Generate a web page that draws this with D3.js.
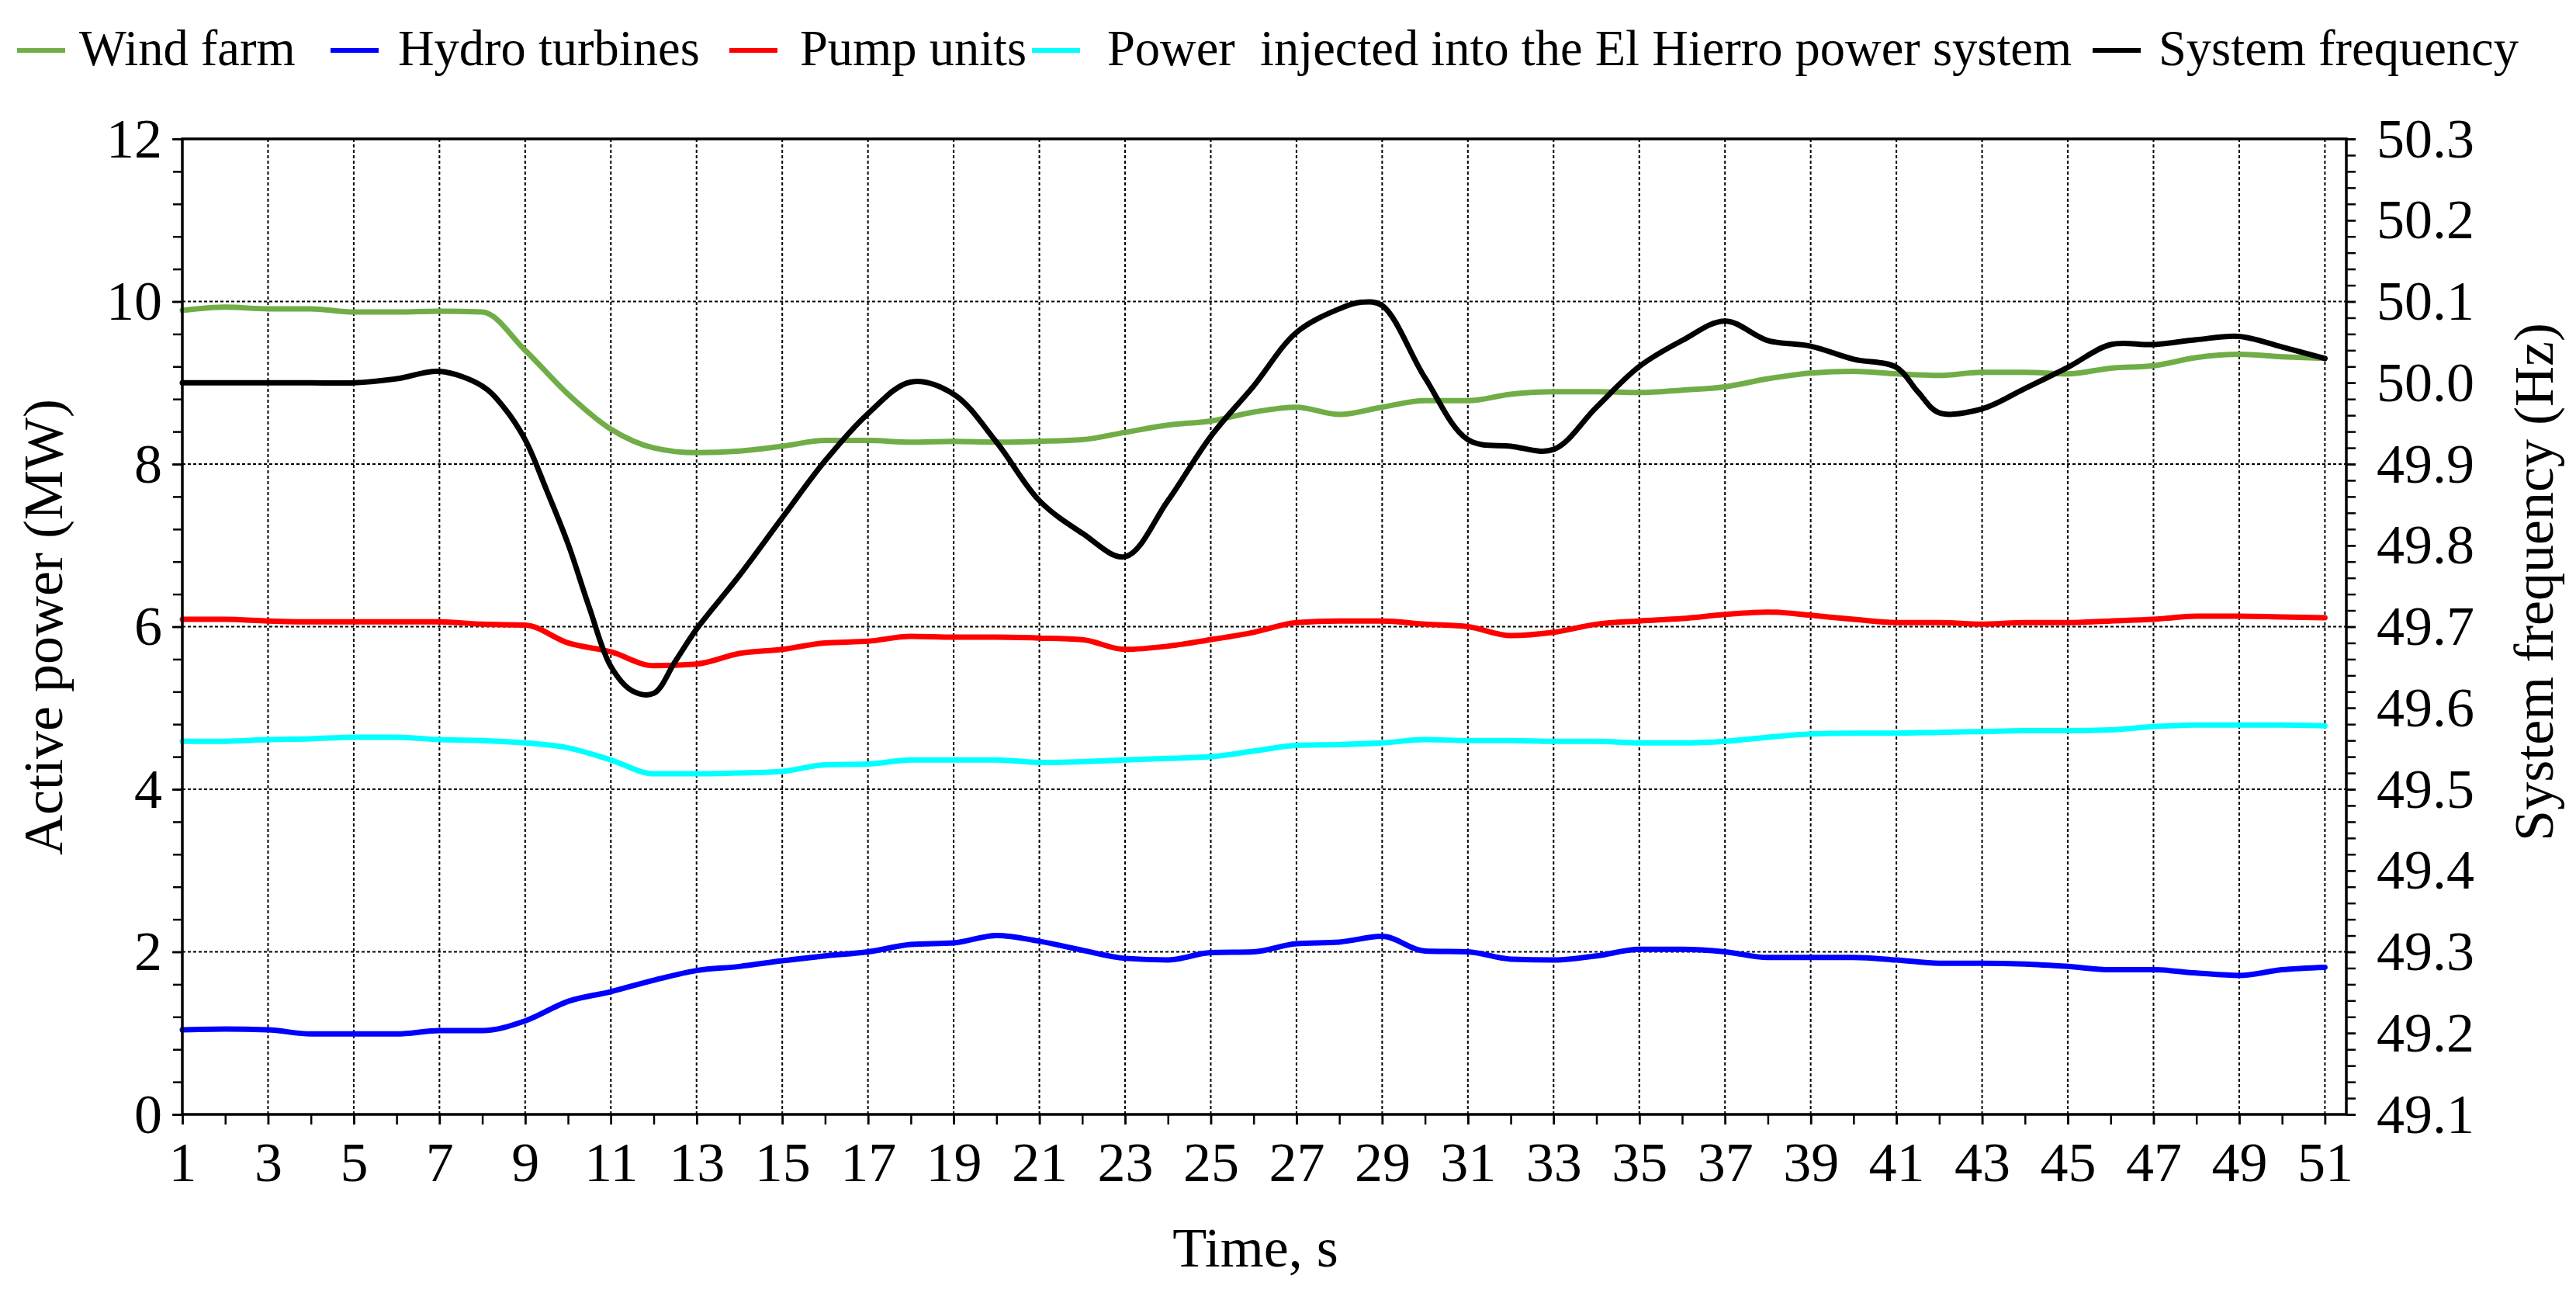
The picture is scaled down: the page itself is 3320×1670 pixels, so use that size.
<!DOCTYPE html>
<html><head><meta charset="utf-8">
<script src="https://cdn.jsdelivr.net/npm/d3@7"></script>
<style>
body{margin:0;background:#fff}
svg text{font-family:"Liberation Serif","Times New Roman",serif !important;fill:#000}
</style>
</head><body><svg id="c" width="3320" height="1670"></svg>
<script>
// ---------------- data ----------------
const time = [1,2,3,4,5,6,7,8,9,10,11,12,13,14,15,16,17,18,19,20,21,22,23,24,25,26,27,28,29,30,31,32,33,34,35,36,37,38,39,40,41,42,43,44,45,46,47,48,49,50,51];
const windFarm = [9.89,9.93,9.91,9.91,9.87,9.87,9.88,9.87,9.40,8.86,8.43,8.20,8.14,8.16,8.22,8.29,8.29,8.27,8.28,8.27,8.28,8.30,8.39,8.48,8.53,8.64,8.70,8.61,8.70,8.78,8.78,8.86,8.89,8.89,8.88,8.91,8.95,9.05,9.12,9.14,9.11,9.09,9.13,9.13,9.11,9.18,9.21,9.31,9.35,9.32,9.30];
const hydroTurbines = [1.04,1.05,1.04,0.99,0.99,0.99,1.03,1.03,1.15,1.39,1.51,1.65,1.77,1.82,1.89,1.95,2.00,2.09,2.11,2.20,2.13,2.02,1.92,1.90,1.99,2.00,2.10,2.12,2.19,2.01,2.00,1.91,1.90,1.95,2.03,2.03,2.00,1.93,1.93,1.93,1.90,1.86,1.86,1.85,1.82,1.78,1.78,1.74,1.71,1.78,1.81];
const pumpUnits = [6.09,6.09,6.07,6.06,6.06,6.06,6.06,6.03,6.02,5.80,5.69,5.52,5.54,5.67,5.72,5.80,5.82,5.88,5.87,5.87,5.86,5.84,5.72,5.76,5.84,5.93,6.05,6.07,6.07,6.03,6.00,5.89,5.93,6.03,6.07,6.10,6.15,6.18,6.14,6.09,6.05,6.05,6.03,6.05,6.05,6.07,6.09,6.13,6.13,6.12,6.11];
const powerInjected = [4.59,4.59,4.61,4.62,4.64,4.64,4.61,4.60,4.57,4.51,4.36,4.19,4.19,4.20,4.22,4.30,4.31,4.36,4.36,4.36,4.33,4.34,4.36,4.38,4.40,4.47,4.54,4.55,4.57,4.61,4.60,4.60,4.59,4.59,4.57,4.57,4.59,4.64,4.68,4.69,4.69,4.70,4.71,4.72,4.72,4.73,4.77,4.79,4.79,4.79,4.78];
const freqTime = [1,2,3,4,5,6,7,8,8.5,9,9.5,10,10.5,11,11.5,12,12.5,13,14,15,16,17,18,19,20,21,22,23,24,25,26,27,28,28.5,29,30,31,32,33,34,35,36,37,38,39,40,41,41.5,42,43,44,45,46,47,48,49,50,51];
const systemFrequency = [50.000,50.000,50.000,50.000,50.000,50.005,50.014,49.996,49.970,49.930,49.868,49.802,49.723,49.651,49.621,49.618,49.657,49.697,49.763,49.834,49.904,49.962,50.001,49.986,49.927,49.855,49.815,49.786,49.855,49.934,49.996,50.062,50.091,50.099,50.095,50.006,49.930,49.922,49.918,49.970,50.020,50.052,50.076,50.052,50.045,50.029,50.019,49.989,49.963,49.968,49.993,50.019,50.047,50.047,50.053,50.057,50.044,50.030];

const xTickLabels = [1,3,5,7,9,11,13,15,17,19,21,23,25,27,29,31,33,35,37,39,41,43,45,47,49,51];
const leftTickLabels = [0,2,4,6,8,10,12];
const rightTickLabels = [49.1,49.2,49.3,49.4,49.5,49.6,49.7,49.8,49.9,50.0,50.1,50.2,50.3];
const seriesNames = ["Wind farm","Hydro turbines","Pump units","Power  injected into the El Hierro power system","System frequency"];
const seriesColors = ["#70AD47","#0000FF","#FF0000","#00FFFF","#000000"];
const axisTitles = ["Active power (MW)","System frequency (Hz)","Time, s"];

// ---------------- layout ----------------
const L = 235, R = 3024, T = 179, B = 1436;
const FONT = 'Liberation Serif, Times New Roman, serif';
const svg = d3.select("#c");

const x = d3.scaleLinear().domain([1, 51.5]).range([L, R]);
const y = d3.scaleLinear().domain([0, 12]).range([B, T]);
const yF = d3.scaleLinear().domain([49.1, 50.3]).range([B, T]);

// grid
const grid = svg.append("g").attr("stroke", "#000").attr("stroke-width", 2).attr("stroke-dasharray", "4,3");
grid.selectAll("line.v").data(xTickLabels.filter(d => d > 1)).join("line")
  .attr("x1", d => x(d)).attr("x2", d => x(d)).attr("y1", T).attr("y2", B);
grid.selectAll("line.h").data(leftTickLabels.filter(d => d > 0 && d < 12)).join("line")
  .attr("x1", L).attr("x2", R).attr("y1", d => y(d)).attr("y2", d => y(d));

// series
const powerSeries = [windFarm, hydroTurbines, pumpUnits, powerInjected];
const line = d3.line().x(d => x(d[0])).y(d => y(d[1])).curve(d3.curveMonotoneX);
const order = [0, 3, 2, 1];
order.forEach(i => {
  svg.append("path")
    .datum(time.map((t, k) => [t, powerSeries[i][k]]))
    .attr("d", line).attr("fill", "none")
    .attr("stroke", seriesColors[i]).attr("stroke-width", 7)
    .attr("stroke-linejoin", "round").attr("stroke-linecap", "round");
});
const fline = d3.line().x(d => x(d[0])).y(d => yF(d[1])).curve(d3.curveCatmullRom.alpha(0.5));
svg.append("path")
  .datum(freqTime.map((t, k) => [t, systemFrequency[k]]))
  .attr("d", fline).attr("fill", "none")
  .attr("stroke", seriesColors[4]).attr("stroke-width", 7)
  .attr("stroke-linejoin", "round").attr("stroke-linecap", "round");

// axes
function styleAxis(g) {
  g.select(".domain").remove();
  g.attr("font-family", null).attr("font-size", null);
  g.selectAll(".tick line").attr("stroke", "#000").attr("stroke-width", 2.5);
  g.selectAll("text").style("font-family", FONT).style("font-size", "72px").attr("fill", "#000");
}
const minorLeft = d3.range(0, 12.001, 0.4);
const minorRight = d3.range(49.1, 50.3001, 0.02);
const minorX = time;

svg.append("g").attr("transform", `translate(${L},0)`)
  .call(d3.axisLeft(y).tickValues(minorLeft).tickSize(12).tickFormat("")).call(styleAxis);
svg.append("g").attr("transform", `translate(${L},0)`)
  .call(d3.axisLeft(y).tickValues(leftTickLabels).tickSize(13).tickPadding(13).tickFormat(d3.format("d"))).call(styleAxis);

svg.append("g").attr("transform", `translate(${R},0)`)
  .call(d3.axisRight(yF).tickValues(minorRight).tickSize(12).tickFormat("")).call(styleAxis);
svg.append("g").attr("transform", `translate(${R},0)`)
  .call(d3.axisRight(yF).tickValues(rightTickLabels).tickSize(12).tickPadding(27).tickFormat(d3.format(".1f"))).call(styleAxis);

svg.append("g").attr("transform", `translate(0,${B})`)
  .call(d3.axisBottom(x).tickValues(minorX).tickSize(13).tickFormat("")).call(styleAxis);
const xb = svg.append("g").attr("transform", `translate(0,${B})`)
  .call(d3.axisBottom(x).tickValues(xTickLabels).tickSize(13).tickFormat(d3.format("d"))).call(styleAxis);
xb.selectAll("text").attr("y", 86).attr("dy", null);

// frame
svg.append("rect").attr("x", L).attr("y", T).attr("width", R - L).attr("height", B - T)
  .attr("fill", "none").attr("stroke", "#000").attr("stroke-width", 3.5);

// axis titles
svg.append("text").attr("transform", "translate(80,808) rotate(-90)")
  .attr("text-anchor", "middle").style("font-size", "72px").text(axisTitles[0]);
svg.append("text").attr("transform", "translate(3290,750) rotate(-90)")
  .attr("text-anchor", "middle").style("font-size", "72px").text(axisTitles[1]);
svg.append("text").attr("x", 1618).attr("y", 1632)
  .attr("text-anchor", "middle").style("font-size", "72px").text(axisTitles[2]);

// legend
const legendLineX = [22, 426, 940, 1330, 2697];
const legendTextX = [102, 513, 1031, 1427, 2782];
const lg = svg.append("g");
seriesNames.forEach((name, i) => {
  lg.append("line").attr("x1", legendLineX[i]).attr("x2", legendLineX[i] + 62)
    .attr("y1", 65).attr("y2", 65).attr("stroke", seriesColors[i]).attr("stroke-width", 6);
  lg.append("text").attr("x", legendTextX[i]).attr("y", 84).style("font-size", "64.5px")
    .style("white-space", "pre").text(name);
});
</script>
</body></html>
